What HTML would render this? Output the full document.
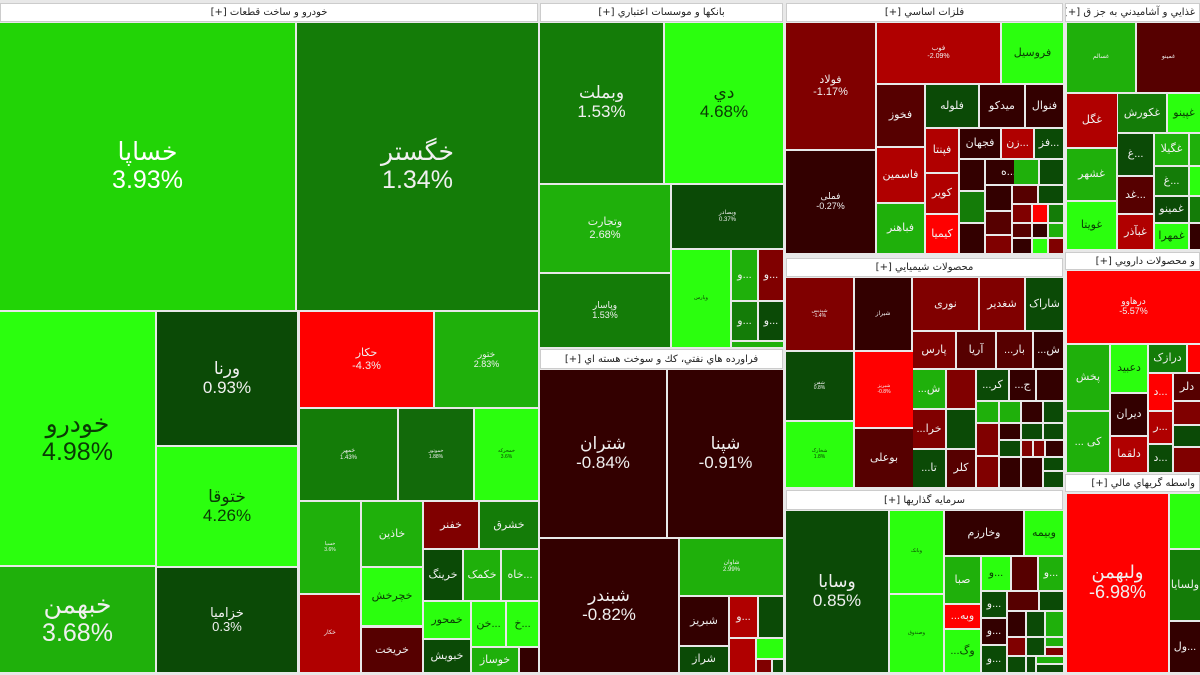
<!DOCTYPE html>
<html><head><meta charset="utf-8">
<style>
html,body{margin:0;padding:0;background:#fff;width:1200px;height:675px;overflow:hidden;}
.t{position:absolute;display:flex;flex-direction:column;align-items:center;justify-content:center;text-align:center;color:#f0f0f0;font-family:"Liberation Sans","DejaVu Sans",sans-serif;line-height:1.1;overflow:hidden;white-space:nowrap;font-size:11px;}
.h{position:absolute;background:#fff;border:1px solid #ccc;box-sizing:border-box;display:flex;align-items:center;justify-content:center;font-family:"DejaVu Sans","Liberation Sans",sans-serif;font-size:10px;color:#222;direction:rtl;white-space:nowrap;overflow:hidden;}
.B{background:#2bff0e;color:#0a3a05}
.L{background:#22d406;color:#0a3a05}
.M{background:#1fb00b}
.G{background:#147c08}
.D{background:#0b4a06}
.R{background:#ff0000}
.R2{background:#b00000}
.R3{background:#800000}
.R4{background:#560000}
.R5{background:#330000}
.big{font-size:25px}
.mid{font-size:17px}
.sm{font-size:13px}
</style></head><body>
<div style="position:absolute;left:0;top:0;width:1200px;height:675px;background:#e8e8e8"></div>

<!-- auto -->
<div class="h" style="left:0;top:3px;width:538px;height:19px">خودرو و ساخت قطعات [+]</div>
<div class="t L big" style="left:0;top:23px;width:295px;height:287px;color:#fff">خساپا<br>3.93%</div>
<div class="t G big" style="left:297px;top:23px;width:241px;height:287px">خگستر<br>1.34%</div>
<div class="t B big" style="left:0;top:312px;width:155px;height:253px">خودرو<br>4.98%</div>
<div class="t M big" style="left:0;top:567px;width:155px;height:105px">خبهمن<br>3.68%</div>
<div class="t D mid" style="left:157px;top:312px;width:140px;height:133px">ورنا<br>0.93%</div>
<div class="t B mid" style="left:157px;top:447px;width:140px;height:119px">ختوقا<br>4.26%</div>
<div class="t D sm" style="left:157px;top:568px;width:140px;height:104px">خزامیا<br>0.3%</div>
<div class="t R" style="left:300px;top:312px;width:133px;height:95px">حکار<br>-4.3%</div>
<div class="t M" style="left:435px;top:312px;width:103px;height:95px;font-size:9px">ختور<br>2.83%</div>
<div class="t G" style="left:300px;top:409px;width:97px;height:91px;font-size:6px">خمهر<br>1.43%</div>
<div class="t G" style="left:399px;top:409px;width:74px;height:91px;background:#126a0a;font-size:5px">خموتور<br>1.88%</div>
<div class="t B" style="left:475px;top:409px;width:63px;height:91px;font-size:5px">خمحرکه<br>3.6%</div>
<div class="t M" style="left:300px;top:502px;width:60px;height:91px;font-size:5px">خسپا<br>3.6%</div>
<div class="t M" style="left:362px;top:502px;width:60px;height:64px">خاذین</div>
<div class="t R3" style="left:424px;top:502px;width:54px;height:46px">خفنر</div>
<div class="t G" style="left:480px;top:502px;width:58px;height:46px">خشرق</div>
<div class="t R2" style="left:300px;top:595px;width:60px;height:77px;font-size:6px">خکار</div>
<div class="t B" style="left:362px;top:568px;width:60px;height:57px">خچرخش</div>
<div class="t R4" style="left:362px;top:628px;width:60px;height:44px">خریخت</div>
<div class="t D" style="left:424px;top:550px;width:38px;height:50px">خرینگ</div>
<div class="t M" style="left:464px;top:550px;width:36px;height:50px">خکمک</div>
<div class="t M" style="left:502px;top:550px;width:36px;height:50px">خاه...</div>
<div class="t B" style="left:424px;top:602px;width:46px;height:36px">خمحور</div>
<div class="t B" style="left:472px;top:602px;width:33px;height:44px">خن...</div>
<div class="t B" style="left:507px;top:602px;width:31px;height:44px">خ...</div>
<div class="t D" style="left:424px;top:640px;width:46px;height:32px">خبویش</div>
<div class="t M" style="left:472px;top:648px;width:46px;height:24px">خوساز</div>
<div class="t R5" style="left:520px;top:648px;width:18px;height:24px"></div>

<!-- banks -->
<div class="h" style="left:540px;top:3px;width:243px;height:19px">بانکها و موسسات اعتباري [+]</div>
<div class="t G mid" style="left:540px;top:23px;width:123px;height:160px">وبملت<br>1.53%</div>
<div class="t B mid" style="left:665px;top:23px;width:118px;height:160px">دي<br>4.68%</div>
<div class="t M" style="left:540px;top:185px;width:130px;height:87px">وتجارت<br>2.68%</div>
<div class="t G" style="left:540px;top:274px;width:130px;height:73px;font-size:9px">وپاسار<br>1.53%</div>
<div class="t D" style="left:672px;top:185px;width:111px;height:63px;font-size:6px">وبصادر<br>0.37%</div>
<div class="t B" style="left:672px;top:250px;width:58px;height:97px;font-size:5px">وپارس</div>
<div class="t M" style="left:732px;top:250px;width:25px;height:50px">و...</div>
<div class="t R3" style="left:759px;top:250px;width:24px;height:50px">و...</div>
<div class="t G" style="left:732px;top:302px;width:25px;height:38px">و...</div>
<div class="t D" style="left:759px;top:302px;width:24px;height:38px">و...</div>
<div class="t M" style="left:732px;top:342px;width:51px;height:5px"></div>

<!-- oil -->
<div class="h" style="left:540px;top:349px;width:243px;height:20px">فراورده هاي نفتي، كك و سوخت هسته اي [+]</div>
<div class="t R5 mid" style="left:540px;top:370px;width:126px;height:167px">شتران<br>-0.84%</div>
<div class="t R5 mid" style="left:668px;top:370px;width:115px;height:167px">شپنا<br>-0.91%</div>
<div class="t R5 mid" style="left:540px;top:539px;width:138px;height:133px">شبندر<br>-0.82%</div>
<div class="t M" style="left:680px;top:539px;width:103px;height:56px;font-size:6px">شاوان<br>2.99%</div>
<div class="t R5" style="left:680px;top:597px;width:48px;height:48px">شبریز</div>
<div class="t D" style="left:680px;top:647px;width:48px;height:25px">شراز</div>
<div class="t R2" style="left:730px;top:597px;width:27px;height:40px">و...</div>
<div class="t D" style="left:759px;top:597px;width:24px;height:40px"></div>
<div class="t R2" style="left:730px;top:639px;width:25px;height:33px"></div>
<div class="t B" style="left:757px;top:639px;width:26px;height:19px"></div>
<div class="t R3" style="left:757px;top:660px;width:14px;height:12px"></div>
<div class="t D" style="left:773px;top:660px;width:10px;height:12px"></div>

<!-- metals -->
<div class="h" style="left:786px;top:3px;width:277px;height:19px">فلزات اساسي [+]</div>
<div class="t R3" style="left:786px;top:23px;width:89px;height:126px">فولاد<br>-1.17%</div>
<div class="t R5" style="left:786px;top:151px;width:89px;height:102px;font-size:9px">فملی<br>-0.27%</div>
<div class="t R2" style="left:877px;top:23px;width:123px;height:60px;font-size:7px">فوب<br>-2.09%</div>
<div class="t B" style="left:1002px;top:23px;width:61px;height:60px">فروسیل</div>
<div class="t R4" style="left:877px;top:85px;width:47px;height:61px">فخوز</div>
<div class="t R2" style="left:877px;top:148px;width:47px;height:54px">فاسمین</div>
<div class="t M" style="left:877px;top:204px;width:47px;height:49px">فباهنر</div>
<div class="t D" style="left:926px;top:85px;width:52px;height:42px">فلوله</div>
<div class="t R5" style="left:980px;top:85px;width:44px;height:42px">میدکو</div>
<div class="t R5" style="left:1026px;top:85px;width:37px;height:42px">فنوال</div>
<div class="t R2" style="left:926px;top:129px;width:32px;height:43px">فپنتا</div>
<div class="t R2" style="left:926px;top:174px;width:32px;height:39px">کویر</div>
<div class="t R" style="left:926px;top:215px;width:32px;height:38px">کیمیا</div>
<div class="t R5" style="left:960px;top:129px;width:40px;height:29px">فجهان</div>
<div class="t R2" style="left:1002px;top:129px;width:31px;height:29px">زن...</div>
<div class="t D" style="left:1035px;top:129px;width:28px;height:29px">فز...</div>
<div class="t R5" style="left:960px;top:160px;width:24px;height:30px"></div>
<div class="t R5" style="left:986px;top:160px;width:45px;height:24px">ه...</div>
<div class="t M" style="left:1033px;top:160px;width:0px;height:0px"></div>
<div class="t M" style="left:1013px;top:160px;width:25px;height:0px"></div>
<div class="t M" style="left:1014px;top:160px;width:0;height:0"></div>
<div class="t M" style="left:1013px;top:160px;width:0;height:0"></div>
<div class="t M" style="left:1014px;top:160px;width:0;height:0"></div>
<div class="t G" style="left:1013px;top:160px;width:0;height:0"></div>
<div class="t M" style="left:1014px;top:160px;width:24px;height:24px"></div>
<div class="t D" style="left:1040px;top:160px;width:23px;height:24px"></div>
<div class="t G" style="left:960px;top:192px;width:24px;height:30px"></div>
<div class="t R5" style="left:960px;top:224px;width:24px;height:29px"></div>
<div class="t R5" style="left:986px;top:186px;width:25px;height:24px"></div>
<div class="t R4" style="left:1013px;top:186px;width:24px;height:17px"></div>
<div class="t D" style="left:1039px;top:186px;width:24px;height:17px"></div>
<div class="t R4" style="left:986px;top:212px;width:25px;height:22px"></div>
<div class="t R3" style="left:986px;top:236px;width:25px;height:17px"></div>
<div class="t R3" style="left:1013px;top:205px;width:18px;height:17px"></div>
<div class="t R" style="left:1033px;top:205px;width:14px;height:17px"></div>
<div class="t G" style="left:1049px;top:205px;width:14px;height:17px"></div>
<div class="t R4" style="left:1013px;top:224px;width:18px;height:13px"></div>
<div class="t R5" style="left:1033px;top:224px;width:14px;height:13px"></div>
<div class="t M" style="left:1049px;top:224px;width:14px;height:13px"></div>
<div class="t R5" style="left:1013px;top:239px;width:18px;height:14px"></div>
<div class="t B" style="left:1033px;top:239px;width:14px;height:14px"></div>
<div class="t R3" style="left:1049px;top:239px;width:14px;height:14px"></div>

<!-- food -->
<div class="h" style="left:1065px;top:3px;width:135px;height:19px;justify-content:flex-start;padding-right:4px">غذايي و آشاميدني به جز ق [+]</div>
<div class="t M" style="left:1067px;top:23px;width:68px;height:69px;font-size:6px">غسالم</div>
<div class="t R4" style="left:1137px;top:23px;width:63px;height:69px;font-size:6px">غمینو</div>
<div class="t R2" style="left:1067px;top:94px;width:50px;height:53px">غگل</div>
<div class="t G" style="left:1118px;top:94px;width:48px;height:38px">غکورش</div>
<div class="t B" style="left:1168px;top:94px;width:32px;height:38px">غپینو</div>
<div class="t D" style="left:1118px;top:134px;width:35px;height:41px">غ...</div>
<div class="t M" style="left:1155px;top:134px;width:33px;height:31px">غگیلا</div>
<div class="t M" style="left:1190px;top:134px;width:10px;height:31px"></div>
<div class="t M" style="left:1067px;top:149px;width:49px;height:51px">غشهر</div>
<div class="t B" style="left:1067px;top:202px;width:49px;height:47px">غویتا</div>
<div class="t R4" style="left:1118px;top:177px;width:35px;height:36px">غد...</div>
<div class="t G" style="left:1155px;top:167px;width:33px;height:28px">غ...</div>
<div class="t B" style="left:1190px;top:167px;width:10px;height:28px"></div>
<div class="t D" style="left:1155px;top:197px;width:33px;height:25px">غمینو</div>
<div class="t G" style="left:1190px;top:197px;width:10px;height:25px"></div>
<div class="t R2" style="left:1118px;top:215px;width:35px;height:34px">غبآذر</div>
<div class="t B" style="left:1155px;top:224px;width:33px;height:25px">غمهرا</div>
<div class="t R5" style="left:1190px;top:224px;width:10px;height:25px"></div>

<!-- pharma -->
<div class="h" style="left:1065px;top:252px;width:135px;height:18px;justify-content:flex-start;padding-right:4px">و محصولات دارويي [+]</div>
<div class="t R" style="left:1067px;top:271px;width:133px;height:72px;font-size:9px">درهاوو<br>-5.57%</div>
<div class="t M" style="left:1067px;top:345px;width:42px;height:65px">پخش</div>
<div class="t M" style="left:1067px;top:412px;width:42px;height:60px">... کی</div>
<div class="t B" style="left:1111px;top:345px;width:36px;height:47px">دعبید</div>
<div class="t R5" style="left:1111px;top:394px;width:36px;height:41px">دیران</div>
<div class="t R2" style="left:1111px;top:437px;width:36px;height:35px">دلقما</div>
<div class="t G" style="left:1149px;top:345px;width:37px;height:27px">درازک</div>
<div class="t R" style="left:1188px;top:345px;width:12px;height:27px"></div>
<div class="t R" style="left:1149px;top:374px;width:23px;height:36px">د...</div>
<div class="t R4" style="left:1174px;top:374px;width:26px;height:26px">دلر</div>
<div class="t R2" style="left:1149px;top:412px;width:23px;height:31px">ر...</div>
<div class="t D" style="left:1149px;top:445px;width:23px;height:27px">د...</div>
<div class="t R3" style="left:1174px;top:402px;width:26px;height:22px"></div>
<div class="t D" style="left:1174px;top:426px;width:26px;height:20px"></div>
<div class="t R3" style="left:1174px;top:448px;width:26px;height:24px"></div>

<!-- financial -->
<div class="h" style="left:1065px;top:474px;width:135px;height:18px;justify-content:flex-start;padding-right:4px">واسطه گريهاي مالي [+]</div>
<div class="t R big" style="left:1067px;top:494px;width:101px;height:178px;font-size:18px">ولبهمن<br>-6.98%</div>
<div class="t B" style="left:1170px;top:494px;width:30px;height:54px"></div>
<div class="t G" style="left:1170px;top:550px;width:30px;height:70px">ولسایا</div>
<div class="t R5" style="left:1170px;top:622px;width:30px;height:50px">ول...</div>

<!-- chemicals -->
<div class="h" style="left:786px;top:258px;width:277px;height:19px">محصولات شيميايي [+]</div>
<div class="t R3" style="left:786px;top:278px;width:67px;height:72px;font-size:5px">شپدیس<br>-1.4%</div>
<div class="t R5" style="left:855px;top:278px;width:56px;height:72px;font-size:6px">شیراز</div>
<div class="t R3" style="left:913px;top:278px;width:65px;height:52px">نوری</div>
<div class="t R3" style="left:980px;top:278px;width:44px;height:52px">شغدیر</div>
<div class="t D" style="left:1026px;top:278px;width:37px;height:52px">شاراک</div>
<div class="t R3" style="left:913px;top:332px;width:42px;height:36px">پارس</div>
<div class="t R4" style="left:957px;top:332px;width:38px;height:36px">آریا</div>
<div class="t R4" style="left:997px;top:332px;width:35px;height:36px">...بار</div>
<div class="t R5" style="left:1034px;top:332px;width:29px;height:36px">...ش</div>
<div class="t D" style="left:786px;top:352px;width:67px;height:68px;font-size:5px">شفن<br>0.8%</div>
<div class="t B" style="left:786px;top:422px;width:67px;height:65px;font-size:5px">شخارک<br>1.8%</div>
<div class="t R" style="left:855px;top:352px;width:58px;height:75px;font-size:5px">شبریز<br>-0.8%</div>
<div class="t R4" style="left:855px;top:429px;width:58px;height:58px">بوعلی</div>
<div class="t M" style="left:913px;top:370px;width:32px;height:38px">...ش</div>
<div class="t R3" style="left:947px;top:370px;width:28px;height:38px"></div>
<div class="t D" style="left:977px;top:370px;width:31px;height:30px">...کر</div>
<div class="t R5" style="left:1010px;top:370px;width:25px;height:30px">...ج</div>
<div class="t R5" style="left:1037px;top:370px;width:26px;height:30px"></div>
<div class="t R3" style="left:913px;top:410px;width:32px;height:38px">...خرا</div>
<div class="t D" style="left:913px;top:450px;width:32px;height:37px">...تا</div>
<div class="t D" style="left:947px;top:410px;width:28px;height:38px"></div>
<div class="t R4" style="left:947px;top:450px;width:28px;height:37px">کلر</div>
<div class="t M" style="left:977px;top:402px;width:21px;height:20px"></div>
<div class="t M" style="left:1000px;top:402px;width:20px;height:20px"></div>
<div class="t R5" style="left:1022px;top:402px;width:20px;height:20px"></div>
<div class="t D" style="left:1044px;top:402px;width:19px;height:20px"></div>
<div class="t R3" style="left:977px;top:424px;width:21px;height:31px"></div>
<div class="t R5" style="left:1000px;top:424px;width:20px;height:15px"></div>
<div class="t D" style="left:1022px;top:424px;width:20px;height:15px"></div>
<div class="t D" style="left:1044px;top:424px;width:19px;height:15px"></div>
<div class="t D" style="left:1000px;top:441px;width:20px;height:15px"></div>
<div class="t R3" style="left:1022px;top:441px;width:10px;height:15px"></div>
<div class="t R3" style="left:1034px;top:441px;width:10px;height:15px"></div>
<div class="t R5" style="left:1046px;top:441px;width:17px;height:15px"></div>
<div class="t R3" style="left:977px;top:457px;width:21px;height:30px"></div>
<div class="t R5" style="left:1000px;top:458px;width:20px;height:29px"></div>
<div class="t R5" style="left:1022px;top:458px;width:20px;height:29px"></div>
<div class="t D" style="left:1044px;top:458px;width:19px;height:12px"></div>
<div class="t D" style="left:1044px;top:472px;width:19px;height:15px"></div>

<!-- investment -->
<div class="h" style="left:786px;top:490px;width:277px;height:20px">سرمايه گذاريها [+]</div>
<div class="t D big" style="left:786px;top:511px;width:102px;height:161px;font-size:17px">وسابا<br>0.85%</div>
<div class="t B" style="left:890px;top:511px;width:53px;height:82px;font-size:5px">وبانک</div>
<div class="t B" style="left:890px;top:595px;width:53px;height:77px;font-size:5px">وصندوق</div>
<div class="t R5" style="left:945px;top:511px;width:78px;height:44px">وخارزم</div>
<div class="t B" style="left:1025px;top:511px;width:38px;height:44px">وبیمه</div>
<div class="t M" style="left:945px;top:557px;width:35px;height:46px">صبا</div>
<div class="t B" style="left:982px;top:557px;width:28px;height:33px">و...</div>
<div class="t R4" style="left:1012px;top:557px;width:25px;height:33px"></div>
<div class="t M" style="left:1039px;top:557px;width:24px;height:33px">و...</div>
<div class="t R" style="left:945px;top:605px;width:35px;height:23px">...وبه</div>
<div class="t B" style="left:945px;top:630px;width:35px;height:42px">...وگ</div>
<div class="t D" style="left:982px;top:592px;width:24px;height:25px">و...</div>
<div class="t R4" style="left:1008px;top:592px;width:30px;height:18px"></div>
<div class="t D" style="left:1040px;top:592px;width:23px;height:18px"></div>
<div class="t R5" style="left:982px;top:619px;width:24px;height:25px">و...</div>
<div class="t R5" style="left:1008px;top:612px;width:17px;height:24px"></div>
<div class="t D" style="left:1027px;top:612px;width:17px;height:24px"></div>
<div class="t M" style="left:1046px;top:612px;width:17px;height:24px"></div>
<div class="t D" style="left:982px;top:646px;width:24px;height:26px">و...</div>
<div class="t R3" style="left:1008px;top:638px;width:17px;height:17px"></div>
<div class="t D" style="left:1027px;top:638px;width:17px;height:17px"></div>
<div class="t M" style="left:1046px;top:638px;width:17px;height:8px"></div>
<div class="t R3" style="left:1046px;top:648px;width:17px;height:7px"></div>
<div class="t D" style="left:1008px;top:657px;width:17px;height:15px"></div>
<div class="t D" style="left:1027px;top:657px;width:8px;height:15px"></div>
<div class="t M" style="left:1037px;top:657px;width:26px;height:6px"></div>
<div class="t D" style="left:1037px;top:665px;width:26px;height:7px"></div>
</body></html>
